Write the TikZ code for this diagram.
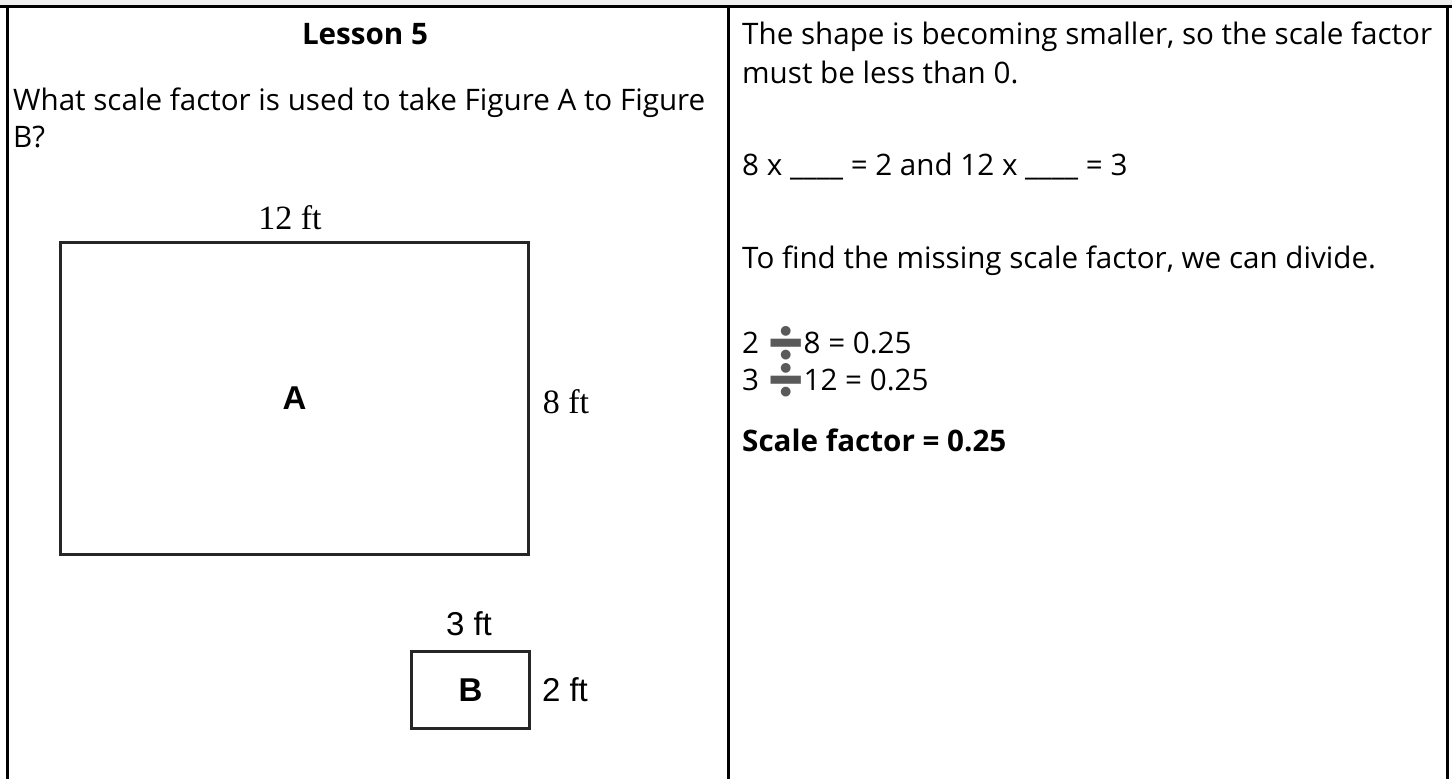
\documentclass[tikz,border=0pt]{standalone}
\usepackage{fontspec}
\setmainfont{Open Sans}
\newfontfamily\labserif{Liberation Serif}
\newfontfamily\labsans{Liberation Sans}
\newfontfamily\emo{Noto Emoji}
\definecolor{bandgray}{HTML}{EFEFEF}
\definecolor{divgray}{HTML}{5A5A5A}
\newcommand{\heavydiv}{{\kern-2pt\emo\fontsize{33}{38}\selectfont\color{divgray}\raisebox{-1pt}{➗}\kern-3pt}}
\begin{document}
\begin{tikzpicture}[x=1pt,y=-1pt,
  body/.style={anchor=base west,inner sep=0pt,font=\fontsize{29.6}{38}\selectfont},
  boldbody/.style={body,font=\fontsize{29.6}{38}\selectfont\bfseries},
  serlab/.style={inner sep=0pt,font=\labserif\fontsize{34}{38}\selectfont},
  sanlab/.style={inner sep=0pt,font=\labsans\fontsize{33}{38}\selectfont},
  fig/.style={draw=black!85,line width=3pt,inner sep=0pt,anchor=north west,
    font=\labsans\bfseries\fontsize{33}{38}\selectfont},
  border/.style={line width=3pt,black}]
\useasboundingbox (0,0) rectangle (1452,779);
\fill[bandgray] (0,0) rectangle (1452,6);
\coordinate (tl) at (7,6.5);
\coordinate (tm) at (728,6.5);
\coordinate (tr) at (1447,6.5);
\coordinate (bl) at (7,779);
\coordinate (bm) at (728,779);
\coordinate (br) at (1447,779);
\draw[border] (0,6.5) -- (1452,6.5);
\draw[border] (tl) -- (bl);
\draw[border] (tm) -- (bm);
\draw[border] (tr) -- (br);
% left column
\node[boldbody,anchor=base] (title) at (365,45) {Lesson 5};
\node[body] (q1) at (13,110) {What scale factor is used to take Figure A to Figure};
\node[body] (q2) at (13,147) {B?};
\node[fig,minimum width=468pt,minimum height=312pt] (A) at (59,241) {A};
\node[serlab] (a12) at (290,218) {12 ft};
\node[serlab] (a8) at (566,402) {8 ft};
\node[fig,minimum width=118pt,minimum height=77pt] (B) at (410,650) {B};
\node[sanlab] (b3) at (469,624) {3 ft};
\node[sanlab] (b2) at (565,690) {2 ft};
% right column
\node[body] (r1) at (742,45) {The shape is becoming smaller, so the scale factor};
\node[body] (r2) at (742,83) {must be less than 0.};
\node[body] (r3) at (742,175) {8 x \_\_\_\_ = 2 and 12 x \_\_\_\_ = 3};
\node[body] (r4) at (742,268) {To find the missing scale factor, we can divide.};
\node[body] (r5) at (742,353) {2 \heavydiv8 = 0.25};
\node[body] (r6) at (742,390) {3 \heavydiv12 = 0.25};
\node[boldbody] (r7) at (742,451) {Scale factor = 0.25};
\end{tikzpicture}
\end{document}
